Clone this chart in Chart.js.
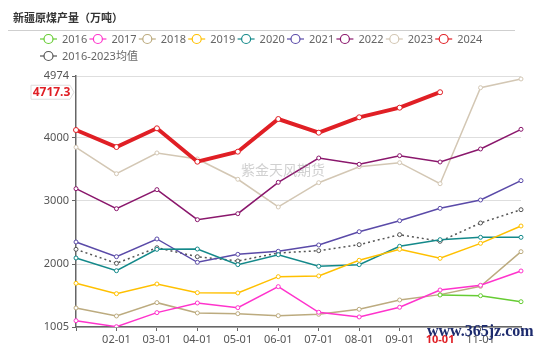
<!DOCTYPE html>
<html>
<head>
<meta charset="utf-8">
<script src="https://cdn.jsdelivr.net/npm/chart.js@4.4.1/dist/chart.umd.min.js"></script>
<style>
    html, body { margin: 0; padding: 0; background: #fff; }
    #wrap { width: 550px; height: 347px; position: relative; }
</style>
</head>
<body>
<div id="wrap"><canvas id="chart" width="550" height="347"></canvas></div>
<script>
const months = ['01-01', '02-01', '03-01', '04-01', '05-01', '06-01', '07-01', '08-01', '09-01', '10-01', '11-01', '12-01'];
const yTicks = [1005, 2000, 3000, 4000, 4974];

const y2016 = [null, null, null, null, null, null, null, null, null, 1511, 1500, 1405];
const y2017 = [1105, 1010, 1232, 1385, 1311, 1643, 1238, 1164, 1317, 1590, 1664, 1891];
const y2018 = [1306, 1179, 1390, 1227, 1216, 1184, 1206, 1285, 1432, 1517, 1649, 2196];
const y2019 = [1696, 1532, 1685, 1548, 1543, 1801, 1812, 2060, 2233, 2091, 2328, 2602];
const y2020 = [2096, 1895, 2233, 2238, 1991, 2148, 1965, 1991, 2281, 2386, 2423, 2423];
const y2021 = [2349, 2117, 2397, 2028, 2154, 2202, 2302, 2512, 2686, 2882, 3013, 3319];
const y2022 = [3192, 2876, 3177, 2702, 2797, 3293, 3677, 3578, 3714, 3614, 3820, 4131];
const y2023 = [3847, 3429, 3757, 3662, 3341, 2903, 3287, 3540, 3603, 3271, 4789, 4927];
const y2024 = [4120, 3851, 4147, 3619, 3777, 4294, 4078, 4321, 4473, 4717.3];
const yAvg = [2233, 2012, 2258, 2117, 2049, 2175, 2212, 2307, 2465, 2360, 2650, 2860];

const lastValue = 4717.3;
const fontFamily = "'Noto Sans', 'Noto Sans CJK SC', sans-serif";

function line(label, data, color, extra) {
    return Object.assign({
        label: label,
        data: data,
        borderColor: color,
        backgroundColor: '#fff',
        borderWidth: 1.5,
        pointRadius: 2,
        pointBorderWidth: 1,
        pointBackgroundColor: '#fff',
        pointBorderColor: color,
        tension: 0,
        order: 1
    }, extra || {});
}

const datasets = [
    line('2016', y2016, '#66cc33'),
    line('2017', y2017, '#ff33cc'),
    line('2018', y2018, '#bcab7f'),
    line('2019', y2019, '#ffc000'),
    line('2020', y2020, '#14898a'),
    line('2021', y2021, '#5a4aa8'),
    line('2022', y2022, '#8a176c'),
    line('2023', y2023, '#d3c7b4'),
    line('2024', y2024, '#e01f25', { borderWidth: 4, pointRadius: 2.5, order: 0 }),
    line('2016-2023均值', yAvg, '#555555', { borderDash: [2, 3], borderWidth: 1.5 })
];

// title, legend, watermark and the end-value marker
const decorPlugin = {
    id: 'decor',
    afterDraw(chart) {
        const ctx = chart.ctx;
        ctx.save();

        ctx.fillStyle = '#333';
        ctx.font = "bold 11px 'Noto Sans CJK SC', sans-serif";
        ctx.textBaseline = 'middle';
        ctx.textAlign = 'left';
        ctx.fillText('新疆原煤产量（万吨）', 13, 18);

        ctx.strokeStyle = '#cfcfcf';
        ctx.lineWidth = 1;
        ctx.beginPath();
        ctx.moveTo(8, 30.5);
        ctx.lineTo(515, 30.5);
        ctx.stroke();

        // legend
        ctx.font = '11px ' + fontFamily;
        chart.data.datasets.forEach((ds, i) => {
            const row = i < 9 ? 0 : 1;
            const x = row === 0 ? 40 + i * 49.4 : 40;
            const y = row === 0 ? 39 : 56;
            ctx.strokeStyle = ds.borderColor;
            ctx.lineWidth = 1.2;
            ctx.beginPath();
            ctx.moveTo(x, y);
            ctx.lineTo(x + 17, y);
            ctx.stroke();
            ctx.beginPath();
            ctx.arc(x + 8.5, y, 4.5, 0, Math.PI * 2);
            ctx.fillStyle = '#fff';
            ctx.fill();
            ctx.stroke();
            ctx.fillStyle = '#666';
            ctx.fillText(ds.label, x + 22, y + 0.5);
        });

        // watermark
        ctx.fillStyle = 'rgba(150,150,150,0.45)';
        ctx.font = "14px 'Noto Sans CJK SC', sans-serif";
        ctx.fillText('紫金天风期货', 241, 170);

        // end value marker on the y axis
        const yPos = chart.scales.y.getPixelForValue(lastValue);
        ctx.fillStyle = '#fff';
        ctx.strokeStyle = '#ddd';
        ctx.lineWidth = 1;
        ctx.beginPath();
        ctx.moveTo(31, yPos - 7);
        ctx.lineTo(70, yPos - 7);
        ctx.lineTo(74, yPos);
        ctx.lineTo(70, yPos + 7);
        ctx.lineTo(31, yPos + 7);
        ctx.closePath();
        ctx.fill();
        ctx.stroke();
        ctx.fillStyle = '#e01f25';
        ctx.font = 'bold 12px ' + fontFamily;
        ctx.textAlign = 'center';
        ctx.fillText(lastValue.toFixed(1), 51.5, yPos + 0.5);

        ctx.fillStyle = '#1d2b6e';
        ctx.font = "bold 16px 'Liberation Serif', serif";
        ctx.textAlign = 'left';
        ctx.fillText('www.365jz.com', 427, 332);

        ctx.restore();
    }
};

const ctx = document.getElementById('chart').getContext('2d');
new Chart(ctx, {
    type: 'line',
    data: { labels: months, datasets: datasets },
    options: {
        responsive: false,
        animation: false,
        layout: { padding: { top: 76, right: 29, left: 0, bottom: 0 } },
        plugins: {
            legend: { display: false },
            tooltip: { enabled: false }
        },
        scales: {
            x: {
                offset: false,
                border: { color: '#666', width: 1.5 },
                grid: { drawOnChartArea: false, drawTicks: true, tickLength: 4, tickColor: '#666' },
                ticks: {
                    autoSkip: false,
                    maxRotation: 0,
                    padding: 2,
                    font: { family: fontFamily, size: 11, weight: (c) => c.index === 9 ? 'bold' : 'normal' },
                    color: (c) => c.index === 9 ? '#e01f25' : '#555',
                    callback: function (val, i) {
                        return (i === 0 || i === 11) ? '' : months[i];
                    }
                },
                afterFit: (scale) => { scale.height = 20; }
            },
            y: {
                min: yTicks[0],
                max: yTicks[yTicks.length - 1],
                border: { color: '#666', width: 1.5 },
                grid: { color: '#dedede', lineWidth: 1, tickLength: 4, tickColor: '#666' },
                ticks: {
                    padding: 3,
                    color: '#555',
                    font: { family: fontFamily, size: 11 },
                    callback: (v) => String(v)
                },
                afterBuildTicks: (scale) => {
                    scale.ticks = yTicks.map(v => ({ value: v }));
                },
                afterFit: (scale) => { scale.width = 76; }
            }
        }
    },
    plugins: [decorPlugin]
});
</script>
</body>
</html>
